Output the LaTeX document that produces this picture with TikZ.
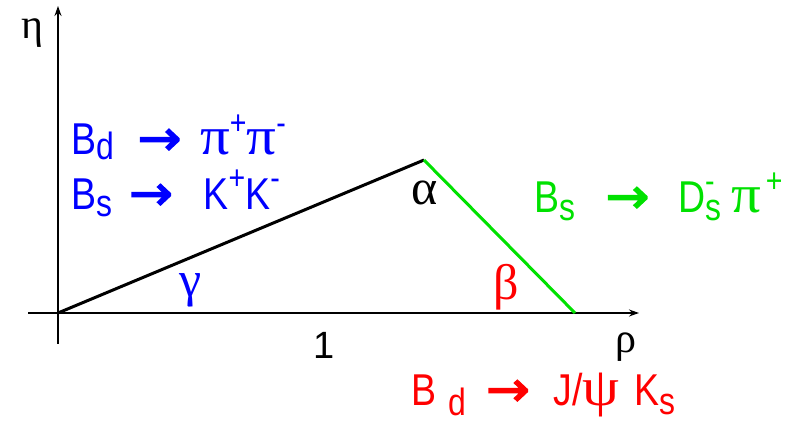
\documentclass[tikz,border=0pt]{standalone}
\usepackage{graphicx}
\usepackage{fontspec}
\setmainfont{Liberation Sans}
\newfontfamily\greekfont{Liberation Serif}
\newfontfamily\arrowfont[FakeBold=2.5]{DejaVu Sans}
\usetikzlibrary{arrows.meta,positioning}
\definecolor{decblue}{RGB}{0,0,255}
\definecolor{decgreen}{RGB}{0,225,0}
\definecolor{decred}{RGB}{255,0,0}
\newcommand{\lo}[2][3pt]{\raisebox{-#1}{\fontsize{19}{19}\selectfont #2}}
\newcommand{\hi}[1]{\raisebox{0.85ex}{\fontsize{17}{17}\selectfont #1}}
\newcommand{\gk}[1]{\scalebox{1.3}[1]{\greekfont\fontsize{27}{28}\selectfont #1}}
\NewDocumentCommand{\goesto}{O{14pt}O{11pt}}{\hspace{#1}\scalebox{1.4}[1.1]{\arrowfont →}\hspace{#2}}
\newcommand{\narrow}[1]{\scalebox{0.84}[1]{#1}}

\begin{document}
\begin{tikzpicture}[
  x=0.5pt,y=-0.5pt,
  axis/.style={line width=1pt,-{Stealth[length=5pt,width=3.5pt]}},
  side/.style={line width=1.5pt},
  decay/.style={anchor=base west,inner sep=0pt,font=\fontsize{22.3}{26}\selectfont},
  angle/.style={inner sep=0pt,font=\fontsize{25}{26}\selectfont\greekfont},
  axlabel/.style={inner sep=0pt,font=\fontsize{21}{22}\selectfont\greekfont}
]
\useasboundingbox (0,0) rectangle (800,422);
% triangle corners
\coordinate (O) at (58,313);
\coordinate (apex) at (424,160);
\coordinate (rho1) at (575,313);
\coordinate (xstart) at (28,313);
\coordinate (xend) at (639,313);
\coordinate (ystart) at (58,344);
\coordinate (yend) at (58,6);
\draw[axis] (xstart)--(xend);
\draw[axis] (ystart)--(yend);
\draw[side] (O)--(apex);
\draw[side,decgreen] (apex)--(rho1);
% axis labels
\node[axlabel] (eta) at (32,33) {η};
\node[axlabel] (rho) at (626,347) {ρ};
\node[inner sep=0pt,font=\fontsize{19}{22}\selectfont] (one) at (324,345) {1};
% angles
\node[angle,decblue] (gamma) at (191,290) {γ};
\node[angle] (alpha) at (425,193) {α};
\node[angle,decred] (beta) at (506,287) {β};
% decay channels
\node[decay,decblue] (bdpipi) at (71,155) {\narrow{B\lo[2.5pt]{d}\goesto\gk{π}\hi{+}\gk{π}\hi{-}}};
\node[decay,decblue] (bskk) at (71,210) {\narrow{B\lo[3.5pt]{s}\goesto[10pt][12pt] K\hi{+}K\hi{-}}};
\node[decay,decgreen] (bsdspi) at (534,213) {\narrow{B\lo[4pt]{s}\goesto[18pt][17pt]D\rlap{\hi{-}}\lo[4pt]{s}\hspace{6pt}\gk{π}\hspace{3pt}\hi{+}}};
\node[decay,decred] (bdpsiks) at (411,406) {\narrow{B\hspace{7pt}\lo[5pt]{d}\goesto[12pt][14pt]J/\gk{ψ}\hspace{9pt}K\lo[4.5pt]{s}}};
\end{tikzpicture}
\end{document}
